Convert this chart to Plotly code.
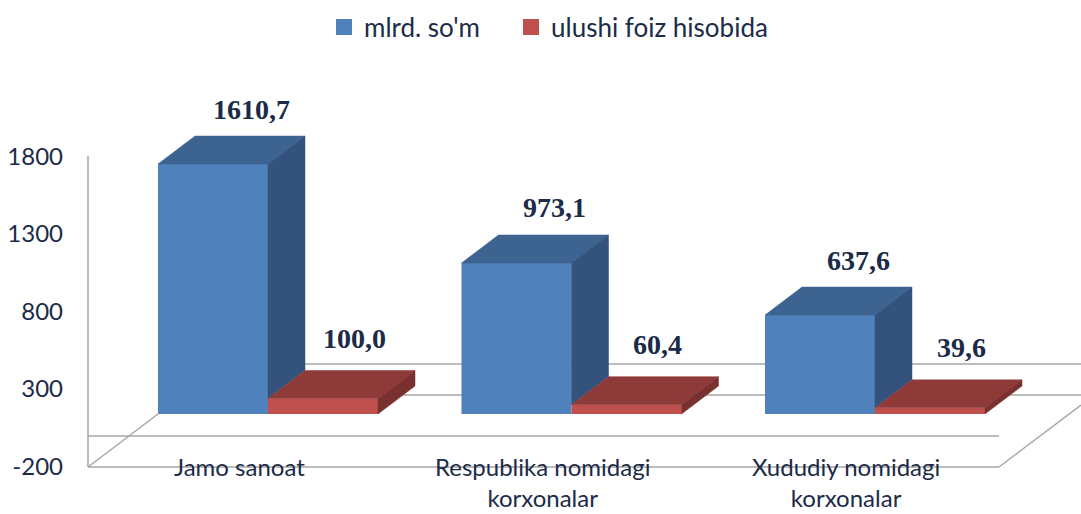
import plotly.graph_objects as go

# ---------------- data ----------------
categories = ["Jamo sanoat", "Respublika nomidagi<br>korxonalar", "Xududiy nomidagi<br>korxonalar"]
series_names = ["mlrd. so'm", "ulushi foiz hisobida"]
mlrd_som = [1610.7, 973.1, 637.6]
ulushi_foiz = [100.0, 60.4, 39.6]
y_tick_values = [-200, 300, 800, 1300, 1800]
y_tick_labels = ["-200", "300", "800", "1300", "1800"]

# ---------------- styling ----------------
W, H = 1081, 514
ML, MR, MT, MB = 88, 0, 100, 34
PLOT_W = W - ML - MR
PLOT_H = H - MT - MB
PX_PER_X = 303.5
X0_PX = 268
PX_PER_Y = 0.1552
Y0_PX = 414          # front plane zero
Y2_0_PX = 435.5      # axis-label plane zero

xmin = -(X0_PX - ML) / PX_PER_X
xmax = xmin + PLOT_W / PX_PER_X
ymin = -(MT + PLOT_H - Y0_PX) / PX_PER_Y
ymax = (Y0_PX - MT) / PX_PER_Y
y2min = -(MT + PLOT_H - Y2_0_PX) / PX_PER_Y
y2max = (Y2_0_PX - MT) / PX_PER_Y

BW = 110 / PX_PER_X
DX = 37 / PX_PER_X
DY = 28 / PX_PER_Y

BLUE_FRONT, BLUE_TOP, BLUE_SIDE = "#4F81BD", "#3D6390", "#33537D"
RED_FRONT, RED_TOP, RED_SIDE = "#C0504D", "#8E3A39", "#7A302F"
TEXT = "#1B2B48"
GRID = "#A6A6A6"
FONT = "Lato"

fig = go.Figure()
xs = list(range(len(categories)))

fig.add_trace(go.Bar(x=xs, y=mlrd_som, width=BW, offset=-BW, marker=dict(color=BLUE_FRONT, line=dict(width=0)),
                     showlegend=False, hoverinfo="skip"))
fig.add_trace(go.Bar(x=xs, y=ulushi_foiz, width=BW, offset=0, marker=dict(color=RED_FRONT, line=dict(width=0)),
                     showlegend=False, hoverinfo="skip"))


def poly(px, py, color):
    fig.add_trace(go.Scatter(x=px + [px[0]], y=py + [py[0]], mode="lines", fill="toself", fillcolor=color,
                             line=dict(color=color, width=0.5), showlegend=False, hoverinfo="skip"))


for i, (v, r) in enumerate(zip(mlrd_som, ulushi_foiz)):
    # blue top & visible side
    poly([i - BW, i - BW + DX, i + DX, i], [v, v + DY, v + DY, v], BLUE_TOP)
    poly([i, i, i + DX, i + DX], [r, v, v + DY, r + DY], BLUE_SIDE)
    # red top & side
    poly([i, i + DX, i + BW + DX, i + BW], [r, r + DY, r + DY, r], RED_TOP)
    poly([i + BW, i + BW, i + BW + DX, i + BW + DX], [0, r, r + DY, DY], RED_SIDE)

# legend entries
for name, col, lw in zip(series_names, [BLUE_FRONT, RED_FRONT], [142, 240]):
    fig.add_trace(go.Scatter(x=[None], y=[None], mode="markers", name=name, legendwidth=lw,
                             marker=dict(symbol="square", size=16, color=col)))


def fmt(v):
    return f"{v:.1f}".replace(".", ",")


annotations = []
for i, (v, r) in enumerate(zip(mlrd_som, ulushi_foiz)):
    annotations.append(dict(x=i - BW / 2, y=v, xref="x", yref="y", text=f"<b>{fmt(v)}</b>", showarrow=False,
                            xshift=38, yshift=55, font=dict(family="Liberation Serif", size=28, color=TEXT)))
    annotations.append(dict(x=i + BW / 2, y=r, xref="x", yref="y", text=f"<b>{fmt(r)}</b>", showarrow=False,
                            xshift=31, yshift=60, font=dict(family="Liberation Serif", size=28, color=TEXT)))
for i, c in enumerate(categories):
    annotations.append(dict(x=i - 0.095, y=(MT + PLOT_H - 450) / PLOT_H, xref="x", yref="paper", text=c,
                            showarrow=False, yanchor="top", font=dict(family=FONT, size=24, color=TEXT)))


# decorative wall/floor lines (pixel positions -> paper coordinates)
def pxp(x, y):
    return (x - ML) / PLOT_W, (MT + PLOT_H - y) / PLOT_H


shapes = []
for (x1, y1, x2, y2) in [(88, 156, 88, 467), (88, 467, 999, 467), (999, 467, 1081, 405), (88, 467, 158, 414),
                         (88, 436, 999, 436), (200, 364, 1081, 364), (200, 395, 1081, 395)]:
    a, b = pxp(x1, y1)
    c, d = pxp(x2, y2)
    shapes.append(dict(type="line", xref="paper", yref="paper", x0=a, y0=b, x1=c, y1=d,
                       line=dict(color=GRID, width=1.5), layer="below"))

fig.update_layout(
    width=W, height=H, margin=dict(l=ML, r=MR, t=MT, b=MB),
    plot_bgcolor="white", paper_bgcolor="white",
    barmode="overlay",
    xaxis=dict(range=[xmin, xmax], visible=False),
    yaxis=dict(range=[ymin, ymax], visible=False),
    yaxis2=dict(range=[y2min, y2max], overlaying="y", side="left", tickvals=y_tick_values, ticktext=y_tick_labels,
                showgrid=False, zeroline=False, showline=False, ticks="", ticklabelstandoff=24,
                tickfont=dict(family=FONT, size=24, color=TEXT)),
    legend=dict(orientation="h", xref="container", yref="container", x=324 / W, xanchor="left",
                y=1 - 27 / H, yanchor="middle", font=dict(family=FONT, size=26, color=TEXT),
                bgcolor="rgba(0,0,0,0)", entrywidthmode="pixels"),
    annotations=annotations, shapes=shapes,
)
# make y2 axis appear (needs a trace)
fig.add_trace(go.Scatter(x=[None], y=[None], yaxis="y2", showlegend=False, hoverinfo="skip"))

fig.write_html("out.html", config={"displayModeBar": False},
               post_script="document.body.style.margin='0';")
